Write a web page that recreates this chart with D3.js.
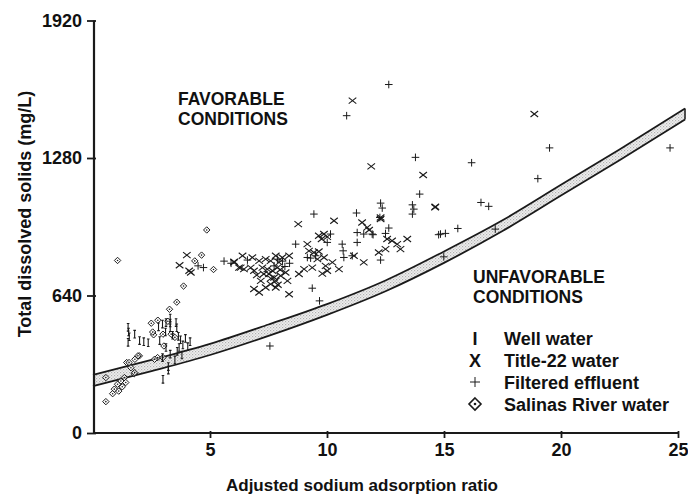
<!DOCTYPE html>
<html>
<head>
<meta charset="utf-8">
<script src="https://cdn.jsdelivr.net/npm/d3@7/dist/d3.min.js"></script>
<style>
  html, body { margin: 0; padding: 0; background: #fff; }
  svg { display: block; }
  text { font-family: "Liberation Sans", Arial, Helvetica, sans-serif; font-weight: bold; fill: #111; }
</style>
</head>
<body>
<svg id="chart" width="688" height="497"></svg>
<script>
// ---------------- DATA ----------------
const xTicks = [5, 10, 15, 20, 25];
const yTicks = [0, 640, 1280, 1920];
const xTitle = "Adjusted sodium adsorption ratio";
const yTitle = "Total dissolved solids (mg/L)";
const favLabel = ["FAVORABLE", "CONDITIONS"];
const unfavLabel = ["UNFAVORABLE", "CONDITIONS"];
const seriesNames = ["Well water", "Title-22 water", "Filtered effluent", "Salinas River water"];

// Boundary band (SAR, TDS upper / lower)
const bandSar   = [0, 2.5, 5, 7.5, 10, 12.5, 15, 17.5, 20, 22.5, 25.3];
const bandUpper = [270, 340, 415, 505, 600, 710, 845, 990, 1155, 1320, 1510];
const bandLower = [218, 288, 363, 452, 550, 660, 792, 940, 1105, 1270, 1459];

// Well water [SAR, TDS]
const wellWater = [
  [1.50,492],[1.52,470],[1.55,448],[1.50,422],[1.78,460],[1.99,430],[2.17,425],[2.36,420],
  [2.80,494],[2.97,507],[3.12,514],[3.30,535],[3.30,512],[3.30,490],[3.55,514],[3.58,490],
  [3.65,450],[3.74,434],[3.84,410],[4.15,425],[4.05,402],[3.80,363],[3.22,309],[3.22,293],
  [2.99,250],[3.12,398],[2.97,351],[3.30,367],[3.68,398],[3.95,440],[3.40,455],[3.10,470],
  [2.85,430],[3.50,340],[3.60,380]
];

// Title-22 water [SAR, TDS]
const title22Water = [
  [4.01,828],[3.70,781],[4.11,755],[4.18,747],[6.03,797],[6.24,770],
  [8.77,972],[10.30,988],[12.29,1003],[14.63,1053],[11.50,980],[11.72,957],[11.80,945],
  [12.57,903],[12.78,895],[13.00,879],[13.14,856],[13.43,903],[12.21,840],[11.57,794],
  [9.65,918],[9.87,926],[10.01,913],[9.77,903],[9.16,879],[9.23,848],[9.44,840],[9.65,845],
  [9.59,809],[9.87,817],[9.94,778],[10.23,794],[10.01,755],[9.37,770],[9.02,763],[8.80,740],
  [9.80,742],[10.51,763],[8.38,825],[6.39,825],[6.81,817],[6.03,794],[6.31,770],[6.45,763],
  [6.88,755],[6.74,770],[7.10,801],[7.38,809],[7.59,801],[7.81,825],[8.09,817],[7.88,770],
  [7.67,755],[7.52,740],[7.74,724],[8.02,732],[8.23,747],[8.31,708],[7.81,708],[7.59,693],
  [7.38,677],[7.17,708],[6.88,670],[7.10,654],[7.81,677],[8.38,646],[7.24,770],[7.45,763],
  [7.95,794],[11.15,825],[12.50,856],[12.29,996],[11.09,1547],[18.86,1485],[11.89,1241],
  [14.11,1201],[14.62,1050],[7.30,740],[7.60,720],[8.00,760],[7.00,735],[7.90,690]
];

// Filtered effluent [SAR, TDS]
const filteredEffluent = [
  [9.44,1019],[11.26,1024],[12.29,1070],[12.36,1047],[13.65,1062],[13.71,1042],[13.65,1019],
  [13.96,1112],[11.29,933],[11.57,926],[11.97,923],[12.50,929],[11.29,887],[12.26,1003],
  [12.29,805],[11.08,825],[10.65,879],[10.69,848],[10.72,817],[14.85,926],[15.06,929],
  [14.99,820],[10.15,926],[10.01,887],[8.66,879],[9.16,817],[9.30,814],[9.51,825],[7.88,809],
  [7.74,778],[9.37,674],[9.68,615],[7.56,405],[12.64,1622],[10.84,1477],[19.51,1327],
  [24.66,1327],[19.01,1184],[13.78,1283],[16.18,1258],[16.58,1073],[16.91,1055],[15.59,952],
  [14.77,923],[17.19,949],[12.64,954],[11.93,926],[4.72,770],[4.49,778],[5.60,800],[5.90,790],
  [6.60,805],[8.10,800],[8.40,790],[8.20,775]
];

// Salinas River water [SAR, TDS]
const salinasRiver = [
  [1.05,803],[4.86,945],[4.64,828],[5.15,761],[3.87,684],[3.58,609],[3.27,576],[2.49,511],
  [2.77,525],[2.59,457],[2.55,470],[1.98,359],[1.79,343],[1.44,328],[1.62,304],[1.76,276],
  [0.55,258],[1.34,258],[1.19,242],[1.05,227],[0.91,204],[0.84,183],[0.55,146],[2.76,351],
  [1.92,359],[2.99,460],[3.34,460],[3.03,405],[2.63,343],[2.99,351],[4.35,801],[1.54,328],
  [1.78,281],[1.25,215],[1.40,235],[1.10,195],[3.20,520],[3.50,445]
];

// ---------------- CHART ----------------
const svg = d3.select("#chart");
const ink = "#1a1a1a";

const x = d3.scaleLinear().domain([0, 25]).range([93, 678]);
const y = d3.scaleLinear().domain([0, 1920]).range([433, 20.5]);

// Band
const bandPts = bandSar.map((s, i) => ({ s, u: bandUpper[i], l: bandLower[i] }));
const area = d3.area().x(d => x(d.s)).y0(d => y(d.l)).y1(d => y(d.u)).curve(d3.curveMonotoneX);
const defs = svg.append("defs");
const pat = defs.append("pattern").attr("id", "stip").attr("width", 3).attr("height", 3)
  .attr("patternUnits", "userSpaceOnUse");
pat.append("rect").attr("width", 3).attr("height", 3).attr("fill", "#efefef");
pat.append("rect").attr("x", 0).attr("y", 0).attr("width", 1.2).attr("height", 1.2).attr("fill", "#b0b0b0");
pat.append("rect").attr("x", 1.5).attr("y", 1.5).attr("width", 1.2).attr("height", 1.2).attr("fill", "#c0c0c0");

svg.append("path").datum(bandPts).attr("d", area).attr("fill", "url(#stip)").attr("stroke", "none");
const lineU = d3.line().x(d => x(d.s)).y(d => y(d.u)).curve(d3.curveMonotoneX);
const lineL = d3.line().x(d => x(d.s)).y(d => y(d.l)).curve(d3.curveMonotoneX);
svg.append("path").datum(bandPts).attr("d", lineU).attr("fill", "none").attr("stroke", ink).attr("stroke-width", 1.8);
svg.append("path").datum(bandPts).attr("d", lineL).attr("fill", "none").attr("stroke", ink).attr("stroke-width", 1.8);
const last = bandPts[bandPts.length - 1];
svg.append("line").attr("x1", x(last.s)).attr("x2", x(last.s)).attr("y1", y(last.u)).attr("y2", y(last.l))
  .attr("stroke", ink).attr("stroke-width", 1.5);

// Axes
const xAxis = d3.axisBottom(x).tickValues(xTicks).tickSize(5).tickPadding(5).tickFormat(d3.format("d"));
const gx = svg.append("g").attr("transform", `translate(0,${y(0)})`).call(xAxis);
gx.select(".domain").attr("d", `M${x(0)},0H${x(25)}`).attr("stroke", ink).attr("stroke-width", 2.2);
gx.selectAll(".tick line").attr("stroke", ink).attr("stroke-width", 1.8).attr("y1", -2);
gx.selectAll(".tick text").attr("font-size", 18).attr("font-family", '"Liberation Sans", Arial, sans-serif')
  .attr("font-weight", "bold").attr("fill", "#111");

const yAxis = d3.axisLeft(y).tickValues(yTicks).tickSize(7).tickPadding(5).tickFormat(d3.format("d"));
const gy = svg.append("g").attr("transform", `translate(${x(0) + 1},0)`).call(yAxis);
gy.select(".domain").attr("d", `M0,${y(0)}V${y(1920)}`).attr("stroke", ink).attr("stroke-width", 2.2);
gy.selectAll(".tick line").attr("stroke", ink).attr("stroke-width", 1.8).attr("x1", 2);
gy.selectAll(".tick text").attr("font-size", 18).attr("font-family", '"Liberation Sans", Arial, sans-serif')
  .attr("font-weight", "bold").attr("fill", "#111");

// Axis titles
svg.append("text").attr("x", 362).attr("y", 491).attr("text-anchor", "middle")
  .attr("font-size", 17).text(xTitle);
svg.append("text").attr("transform", "translate(31,214) rotate(-90)").attr("text-anchor", "middle")
  .attr("font-size", 18).text(yTitle);

// Region labels
svg.append("text").attr("x", 178).attr("y", 105).attr("font-size", 17.5).text(favLabel[0]);
svg.append("text").attr("x", 178).attr("y", 125).attr("font-size", 17.5).text(favLabel[1]);
svg.append("text").attr("x", 473).attr("y", 283).attr("font-size", 17.5).text(unfavLabel[0]);
svg.append("text").attr("x", 473).attr("y", 303).attr("font-size", 17.5).text(unfavLabel[1]);

// Marker shapes
function drawI(g, cx, cy, s) {
  g.append("path").attr("d", `M${cx},${cy - s}V${cy + s}M${cx - 1.3},${cy - s}H${cx + 1.3}M${cx - 1.3},${cy + s}H${cx + 1.3}`)
    .attr("stroke", ink).attr("stroke-width", 1.1).attr("fill", "none");
}
function drawX(g, cx, cy, w, h) {
  g.append("path").attr("d", `M${cx - w},${cy - h}L${cx + w},${cy + h}M${cx - w},${cy + h}L${cx + w},${cy - h}`)
    .attr("stroke", ink).attr("stroke-width", 1.1).attr("fill", "none");
}
function drawPlus(g, cx, cy, s) {
  g.append("path").attr("d", `M${cx - s},${cy}H${cx + s}M${cx},${cy - s}V${cy + s}`)
    .attr("stroke", ink).attr("stroke-width", 1.0).attr("fill", "none");
}
function drawDiamond(g, cx, cy, s) {
  g.append("path").attr("d", `M${cx},${cy - s}L${cx + s},${cy}L${cx},${cy + s}L${cx - s},${cy}Z`)
    .attr("stroke", ink).attr("stroke-width", 1.0).attr("fill", "#fff").attr("fill-opacity", 0.6);
  g.append("circle").attr("cx", cx).attr("cy", cy).attr("r", 0.8).attr("fill", ink);
}

const gm = svg.append("g");
salinasRiver.forEach(d => drawDiamond(gm, x(d[0]), y(d[1]), 3.2));
wellWater.forEach(d => drawI(gm, x(d[0]), y(d[1]), 3.8));
title22Water.forEach(d => drawX(gm, x(d[0]), y(d[1]), 3.8, 3.0));
filteredEffluent.forEach(d => drawPlus(gm, x(d[0]), y(d[1]), 3.8));

// Legend
const legRows = [338, 360, 382, 404];
const lg = svg.append("g");
lg.append("text").attr("x", 475).attr("y", legRows[0] + 6.5).attr("text-anchor", "middle").attr("font-size", 18).text("I");
lg.append("text").attr("x", 475).attr("y", legRows[1] + 6.5).attr("text-anchor", "middle").attr("font-size", 18).text("X");
drawPlus(lg, 475, legRows[2], 5);
lg.append("path").attr("d", `M475,${legRows[3] - 6}L481,${legRows[3]}L475,${legRows[3] + 6}L469,${legRows[3]}Z`)
  .attr("stroke", ink).attr("stroke-width", 1.6).attr("fill", "none");
lg.append("circle").attr("cx", 475).attr("cy", legRows[3]).attr("r", 1.3).attr("fill", ink);
seriesNames.forEach((n, i) => {
  lg.append("text").attr("x", 504).attr("y", legRows[i] + 6.5).attr("font-size", 18).text(n);
});
</script>
</body>
</html>
